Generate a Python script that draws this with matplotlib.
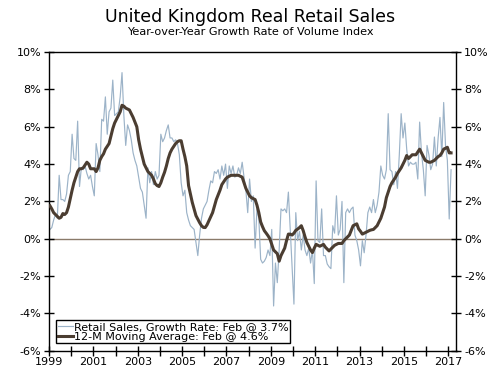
"""
UK real retail sales: year-over-year growth with 12-month moving average.
"""

import matplotlib

matplotlib.use("Agg")
import matplotlib.pyplot as plt
import numpy as np

START_YEAR = 1999

# monthly yoy growth of the volume index (%), Jan 1999 .. Feb 2017, one row per year
retail_growth = [
    0.5, 0.6, 1.0, 1.3, 1.1, 3.4, 2.1, 2.1, 2.0, 2.4, 3.4, 3.6,      # 1999
    5.6, 4.3, 4.2, 6.3, 2.8, 3.8, 3.7, 3.9, 3.5, 3.2, 3.4, 2.8,      # 2000
    2.3, 5.1, 4.5, 3.6, 6.4, 6.3, 7.6, 5.6, 6.8, 7.0, 8.5, 6.6,      # 2001
    6.7, 6.8, 7.6, 8.9, 6.6, 5.0, 6.1, 5.8, 5.3, 4.6, 4.2, 3.9,      # 2002
    3.3, 2.7, 2.5, 1.8, 1.1, 3.8, 3.0, 3.6, 2.9, 3.6, 3.2, 3.4,      # 2003
    5.6, 5.2, 5.4, 5.8, 6.1, 5.4, 5.4, 5.2, 5.3, 5.1, 4.5, 3.0,      # 2004
    2.3, 2.6, 1.4, 1.0, 0.7, 0.6, 0.5, -0.2, -0.9, 0.2, 1.1, 1.6,    # 2005
    1.8, 2.0, 2.6, 3.1, 3.0, 3.6, 3.5, 3.7, 3.2, 3.9, 3.4, 4.0,      # 2006
    2.7, 3.9, 3.5, 3.9, 3.3, 3.4, 3.8, 3.5, 4.1, 3.3, 2.6, 1.4,      # 2007
    3.2, 2.0, 2.3, -0.5, 1.6, 1.1, -1.1, -1.3, -1.2, -1.0, -0.6, -0.9,   # 2008
    0.5, -3.6, -1.3, -2.35, -0.6, 1.6, 1.5, 1.6, 1.4, 2.5, 0.5, -1.45,   # 2009
    -3.5, 1.4, -0.1, 0.4, -0.6, 0.2, -0.6, -0.9, -0.5, -1.3, -0.6, -2.4,  # 2010
    3.1, -0.1, -0.2, 1.6, -0.9, -0.9, -1.35, -1.5, -1.6, 0.7, 0.3, 2.3,   # 2011
    0.2, 0.5, 2.0, -2.35, 1.4, 1.6, 1.4, 1.6, 1.7, 0.2, -0.1, -0.6,      # 2012
    -1.45, -0.1, -0.75, 0.2, 1.4, 1.7, 1.4, 2.1, 1.4, 1.8, 2.5, 3.9,     # 2013
    3.4, 3.2, 3.7, 6.7, 3.7, 3.6, 2.9, 3.6, 2.7, 4.5, 6.7, 5.4,      # 2014
    6.2, 4.8, 3.9, 4.1, 4.0, 4.0, 4.1, 3.2, 6.25, 4.6, 3.7, 2.3,     # 2015
    5.0, 4.5, 3.7, 4.0, 5.45, 3.9, 5.4, 6.5, 4.4, 7.3, 5.0, 4.2,     # 2016
    1.06, 3.7,                                                       # 2017
]

moving_avg = [
    1.77, 1.6, 1.4, 1.3, 1.2, 1.1, 1.15, 1.35, 1.3, 1.4, 1.7, 2.15,  # 1999
    2.6, 3.0, 3.3, 3.6, 3.75, 3.75, 3.8, 3.95, 4.1, 4.0, 3.75, 3.75, # 2000
    3.75, 3.6, 3.8, 4.2, 4.4, 4.55, 4.8, 4.95, 5.1, 5.5, 5.9, 6.2,   # 2001
    6.4, 6.6, 6.8, 7.15, 7.1, 7.0, 6.95, 6.9, 6.7, 6.5, 6.25, 6.0,   # 2002
    5.3, 4.8, 4.4, 4.0, 3.8, 3.6, 3.5, 3.4, 3.2, 2.95, 2.85, 2.8,    # 2003
    3.0, 3.3, 3.56, 3.9, 4.3, 4.6, 4.8, 4.95, 5.1, 5.2, 5.25, 5.25,  # 2004
    4.8, 4.4, 3.9, 2.85, 2.4, 1.95, 1.6, 1.24, 1.05, 0.86, 0.7, 0.61,    # 2005
    0.6, 0.75, 0.97, 1.2, 1.4, 1.75, 2.1, 2.35, 2.6, 2.9, 3.05, 3.2,     # 2006
    3.3, 3.35, 3.4, 3.4, 3.4, 3.4, 3.4, 3.35, 3.3, 3.0, 2.7, 2.5,        # 2007
    2.3, 2.2, 2.15, 2.1, 1.8, 1.4, 0.9, 0.65, 0.43, 0.3, 0.16, 0.0,      # 2008
    -0.3, -0.6, -0.7, -0.8, -1.2, -0.9, -0.7, -0.5, -0.1, 0.25, 0.25, 0.2,   # 2009
    0.3, 0.45, 0.52, 0.6, 0.7, 0.44, 0.1, -0.2, -0.4, -0.6, -0.74, -0.5,     # 2010
    -0.3, -0.35, -0.4, -0.35, -0.3, -0.45, -0.55, -0.65, -0.55, -0.45, -0.35, -0.3,  # 2011
    -0.25, -0.25, -0.25, -0.1, 0.0, 0.1, 0.2, 0.45, 0.7, 0.75, 0.8, 0.53,   # 2012
    0.4, 0.25, 0.3, 0.35, 0.4, 0.45, 0.48, 0.5, 0.6, 0.7, 0.9, 1.1,         # 2013
    1.4, 1.7, 2.2, 2.5, 2.8, 3.0, 3.15, 3.3, 3.5, 3.65, 3.8, 4.0,           # 2014
    4.2, 4.46, 4.3, 4.4, 4.5, 4.5, 4.5, 4.65, 4.8, 4.6, 4.4, 4.2,           # 2015
    4.15, 4.1, 4.1, 4.15, 4.2, 4.3, 4.4, 4.46, 4.6, 4.8, 4.85, 4.9,         # 2016
    4.6, 4.6,                                                               # 2017
]

series_labels = [
    "Retail Sales, Growth Rate: Feb @ 3.7%",
    "12-M Moving Average: Feb @ 4.6%",
]
year_ticks = list(range(1999, 2018))
pct_ticks = [-6, -4, -2, 0, 2, 4, 6, 8, 10]

RETAIL_COLOR = "#9CB3C8"
MA_COLOR = "#4B3D31"
ZERO_COLOR = "#8A7A6A"

# place each monthly value at the middle of its month
months = np.arange(len(retail_growth))
t = START_YEAR + (months + 0.5) / 12.0

fig = plt.figure(figsize=(5.0, 3.72), dpi=100)
ax = fig.add_axes([0.098, 0.057, 0.815, 0.803])

ax.axhline(0, color=ZERO_COLOR, linewidth=1.0, zorder=1)
ax.plot(t, retail_growth, color=RETAIL_COLOR, linewidth=0.85, zorder=2,
        label=series_labels[0])
ax.plot(t, moving_avg, color=MA_COLOR, linewidth=2.2, zorder=3,
        label=series_labels[1])

ax.set_xlim(1999.0, 2017.37)
ax.set_ylim(-6, 10)

ax.set_xticks(year_ticks)
ax.set_xticklabels([str(y) if (y - 1999) % 2 == 0 else "" for y in year_ticks])
ax.set_yticks(pct_ticks)
ax.set_yticklabels([f"{v}%" for v in pct_ticks])

ax.tick_params(axis="both", direction="inout", length=7, width=1.0,
               labelsize=8, color="black")
ax.tick_params(axis="y", which="both", left=True, right=True,
               labelleft=True, labelright=True, pad=2)
ax.tick_params(axis="x", pad=1)
for side in ["left", "right", "bottom", "top"]:
    ax.spines[side].set_linewidth(1.0)
    ax.spines[side].set_color("black")

leg = ax.legend(loc="lower left", bbox_to_anchor=(0.018, 0.026),
                borderaxespad=0, fontsize=8, frameon=True, fancybox=False,
                edgecolor="black", framealpha=1.0, handlelength=1.4,
                handletextpad=0.1, labelspacing=0.0, borderpad=0.12)
leg.get_frame().set_linewidth(1.0)

fig.text(0.5, 0.953, "United Kingdom Real Retail Sales", ha="center",
         va="center", fontsize=12.5)
fig.text(0.5, 0.913, "Year-over-Year Growth Rate of Volume Index",
         ha="center", va="center", fontsize=8.1)

fig.savefig("out.png", dpi=100)
